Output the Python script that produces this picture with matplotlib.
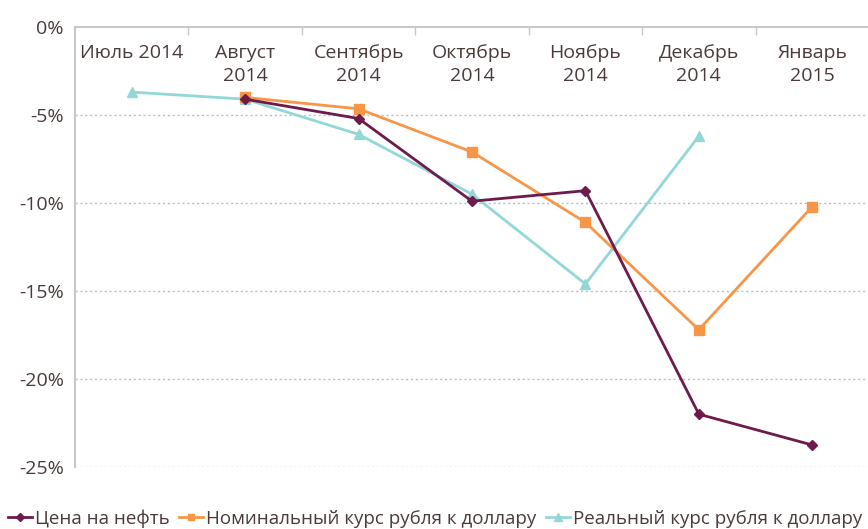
import matplotlib
matplotlib.use("Agg")
import matplotlib.pyplot as plt
import numpy as np

categories = ["Июль 2014", "Август\n2014", "Сентябрь\n2014", "Октябрь\n2014",
              "Ноябрь\n2014", "Декабрь\n2014", "Январь\n2015"]
oil = [None, -4.1, -5.2, -9.9, -9.3, -22.0, -23.75]
nominal = [None, -4.0, -4.65, -7.1, -11.1, -17.2, -10.2]
real = [-3.7, -4.1, -6.1, -9.5, -14.6, -6.2, None]
y_ticks = [0, -5, -10, -15, -20, -25]
y_labels = ["0%", "-5%", "-10%", "-15%", "-20%", "-25%"]
series_names = ["Цена на нефть", "Номинальный курс рубля к доллару", "Реальный курс рубля к доллару"]

plt.rcParams['font.family'] = ['Open Sans', 'DejaVu Sans']
text_color = "#4a3a3a"

W, H = 868, 529
fig = plt.figure(figsize=(W/100, H/100), dpi=100)
ax = fig.add_axes([75/W, 1-467/H, (869-75)/W, (467-27)/H])

def xy(vals):
    xs = [i for i, v in enumerate(vals) if v is not None]
    ys = [v for v in vals if v is not None]
    return xs, ys

xs, ys = xy(oil)
l1, = ax.plot(xs, ys, color="#6e1a4b", lw=2, marker="D", ms=5, label=series_names[0], zorder=4)
xs, ys = xy(nominal)
l2, = ax.plot(xs, ys, color="#f79646", lw=2, marker="s", ms=6.5, label=series_names[1], zorder=3)
xs, ys = xy(real)
l3, = ax.plot(xs, ys, color="#93d7d6", lw=2, marker="^", ms=7.5, label=series_names[2], zorder=2)

ax.set_xlim(-0.5, len(categories)-0.5)
ax.set_ylim(-25, 0)
ax.set_yticks(y_ticks)
ax.set_yticklabels(y_labels, fontsize=14, color=text_color)
ax.tick_params(axis='y', length=0, pad=8)

for t in y_ticks[1:]:
    ax.axhline(t, color="#bdbdbd", lw=1, ls=(0, (1.5, 2)), zorder=1)

for s in ["right", "bottom"]:
    ax.spines[s].set_visible(False)
ax.spines["left"].set_color("#c8c8c8")
ax.spines["top"].set_color("#c8c8c8")
ax.spines["left"].set_linewidth(1.5)
ax.spines["top"].set_linewidth(1.5)

ax.set_xticks([])
ax.set_xticks(np.arange(0.5, len(categories)-0.5, 1), minor=True)
ax.tick_params(axis='x', which='minor', direction='in', length=6, color="#c8c8c8", width=1,
               top=True, bottom=False)

for i, c in enumerate(categories):
    ax.text(i, -0.95, c, ha="center", va="top", fontsize=14, color=text_color,
            linespacing=1.35)

leg = fig.legend(handles=[l1, l2, l3], loc="lower left", bbox_to_anchor=(0.0, -0.012),
                 ncol=3, frameon=False, fontsize=13.5, handlelength=1.3, handletextpad=0.15,
                 columnspacing=0.5, borderaxespad=0.0, markerscale=0.75)
for t in leg.get_texts():
    t.set_color(text_color)

fig.savefig("out.png", dpi=100)
